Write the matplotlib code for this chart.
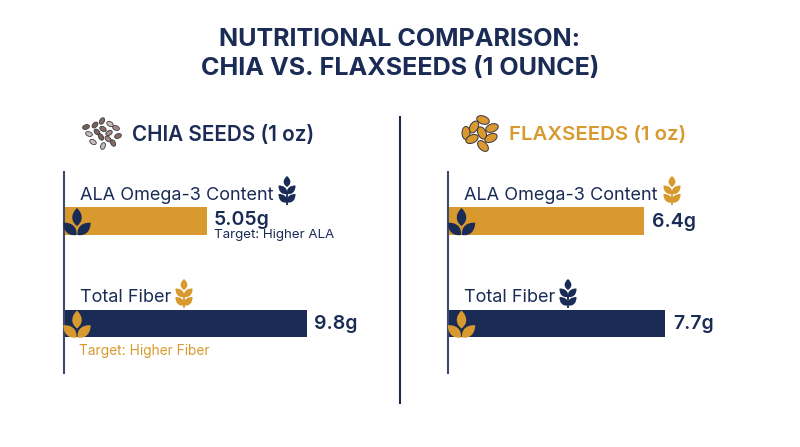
import matplotlib
matplotlib.use("Agg")
import matplotlib.pyplot as plt
from matplotlib.patches import Ellipse, PathPatch
from matplotlib.path import Path
from matplotlib.transforms import Affine2D

NAVY = "#1a2b55"
GOLD = "#d8992f"
AXIS_GREY = "#3d4a6d"

FONT = ["Inter", "DejaVu Sans"]

title_lines = ["NUTRITIONAL COMPARISON:", "CHIA VS. FLAXSEEDS (1 OUNCE)"]
panel_names = ["CHIA SEEDS (1 oz)", "FLAXSEEDS (1 oz)"]
categories = ["ALA Omega-3 Content", "Total Fiber"]
value_labels_chia = ["5.05g", "9.8g"]
value_labels_flax = ["6.4g", "7.7g"]
# bar lengths as drawn in the picture (they do not share one scale)
bar_lengths_chia = [143, 243]
bar_lengths_flax = [196, 217]
bar_colors = [GOLD, NAVY]

W, H = 800, 447

fig = plt.figure(figsize=(W / 100, H / 100), dpi=100, facecolor="white")
ax = fig.add_axes([0, 0, 1, 1])
ax.set_xlim(0, W)
ax.set_ylim(H, 0)
ax.axis("off")


def leaf(x, y, length, width, angle, color):
    # pointed leaf, base at (x, y), angle measured from straight up
    verts = [(0, 0), (-width, -length * 0.3), (-width * 0.8, -length * 0.7), (0, -length),
             (width * 0.8, -length * 0.7), (width, -length * 0.3), (0, 0), (0, 0)]
    codes = [Path.MOVETO, Path.CURVE4, Path.CURVE4, Path.CURVE4,
             Path.CURVE4, Path.CURVE4, Path.CURVE4, Path.CLOSEPOLY]
    tr = Affine2D().rotate_deg(angle).translate(x, y) + ax.transData
    ax.add_patch(PathPatch(Path(verts, codes), fc=color, ec="none", transform=tr, zorder=5))


def wheat(cx, top, color):
    ax.plot([cx, cx], [top + 16, top + 29], color=color, lw=1.3, solid_capstyle="butt", zorder=5)
    leaf(cx, top + 11, 11, 5, 0, color)
    for dy in (18, 26.5):
        leaf(cx, top + dy, 12, 4.8, -45, color)
        leaf(cx, top + dy, 12, 4.8, 45, color)


def sprout(cx, bottom, color):
    leaf(cx, bottom - 9, 18, 7, 0, color)
    leaf(cx - 0.5, bottom, 18, 7, -47, color)
    leaf(cx + 0.5, bottom, 18, 7, 47, color)


# title
for line, y in zip(title_lines, [40, 68]):
    ax.text(400, y, line, ha="center", va="center", fontsize=18.1, fontweight="bold",
            color=NAVY, family=FONT)

# centre divider
ax.plot([400, 400], [117, 403], color=NAVY, lw=1.5)

# panel headers
ax.text(132, 135, panel_names[0], ha="left", va="center", fontsize=14.9, fontweight="semibold",
        color=NAVY, family=FONT)
ax.text(509, 135, panel_names[1], ha="left", va="center", fontsize=14.7, fontweight="semibold",
        color=GOLD, family=FONT)

# seed icons: x, y, angle
chia_seeds = [(102, 121, -60), (110, 124, 30), (95, 125, -45), (116, 128, 20), (103, 129, 30),
              (89, 134, 20), (97, 132, 45), (109, 133, -30), (118, 136, -20), (93, 142, 30),
              (101, 137, 60), (108, 139, 40), (113, 143, 60), (103, 146, -70), (86, 127, -20)]
seed_cols = ["#8a6a5c", "#c9bdb2", "#7a6158", "#a48a7c"]
for i, (sx, sy, a) in enumerate(chia_seeds):
    ax.add_patch(Ellipse((sx, sy), 7, 4.5, angle=a, fc=seed_cols[i % 4], ec="#3a3a4a", lw=0.6, zorder=4))

flax_seeds = [(483, 120, 20), (474, 127, -60), (466, 133, 90), (492, 128, -20), (482, 133, 65),
              (472, 139, -25), (491, 138, -25), (483, 146, 45)]
for sx, sy, a in flax_seeds:
    ax.add_patch(Ellipse((sx, sy), 13, 8, angle=a, fc=GOLD, ec="#3a3340", lw=0.7, zorder=4))

# bars
panels = [
    (63.5, bar_lengths_chia, [NAVY, GOLD], [287, 184]),
    (448, bar_lengths_flax, [GOLD, NAVY], [672, 568]),
]
bar_ys = [221, 323.5]
label_ys = [195, 297]
for left, lengths, wheat_cols, wheat_xs in panels:
    ax.plot([left, left], [172, 373], color=AXIS_GREY, lw=1.5, zorder=3)
    ax.barh(bar_ys, lengths, height=27.5, left=left, color=bar_colors, zorder=2)
    for i in range(2):
        ax.text(left + 16, label_ys[i], categories[i], ha="left", va="center", fontsize=13,
                color=NAVY, family=FONT)
        wheat(wheat_xs[i], 176 if i == 0 else 279, wheat_cols[i])
        sprout(left + 13.5, bar_ys[i] + 14, NAVY if i == 0 else GOLD)

# value labels
ax.text(214, 220, value_labels_chia[0], va="center", fontsize=14, fontweight="semibold", color=NAVY, family=FONT)
ax.text(314, 324, value_labels_chia[1], va="center", fontsize=14, fontweight="semibold", color=NAVY, family=FONT)
ax.text(652, 222, value_labels_flax[0], va="center", fontsize=14, fontweight="semibold", color=NAVY, family=FONT)
ax.text(673, 324, value_labels_flax[1], va="center", fontsize=14, fontweight="semibold", color=NAVY, family=FONT)

ax.text(214, 235, "Target: Higher ALA", va="center", fontsize=9.6, color=NAVY, family=FONT)
ax.text(79, 351, "Target: Higher Fiber", va="center", fontsize=9.9, color=GOLD, family=FONT)

fig.savefig("out.png", dpi=100)
